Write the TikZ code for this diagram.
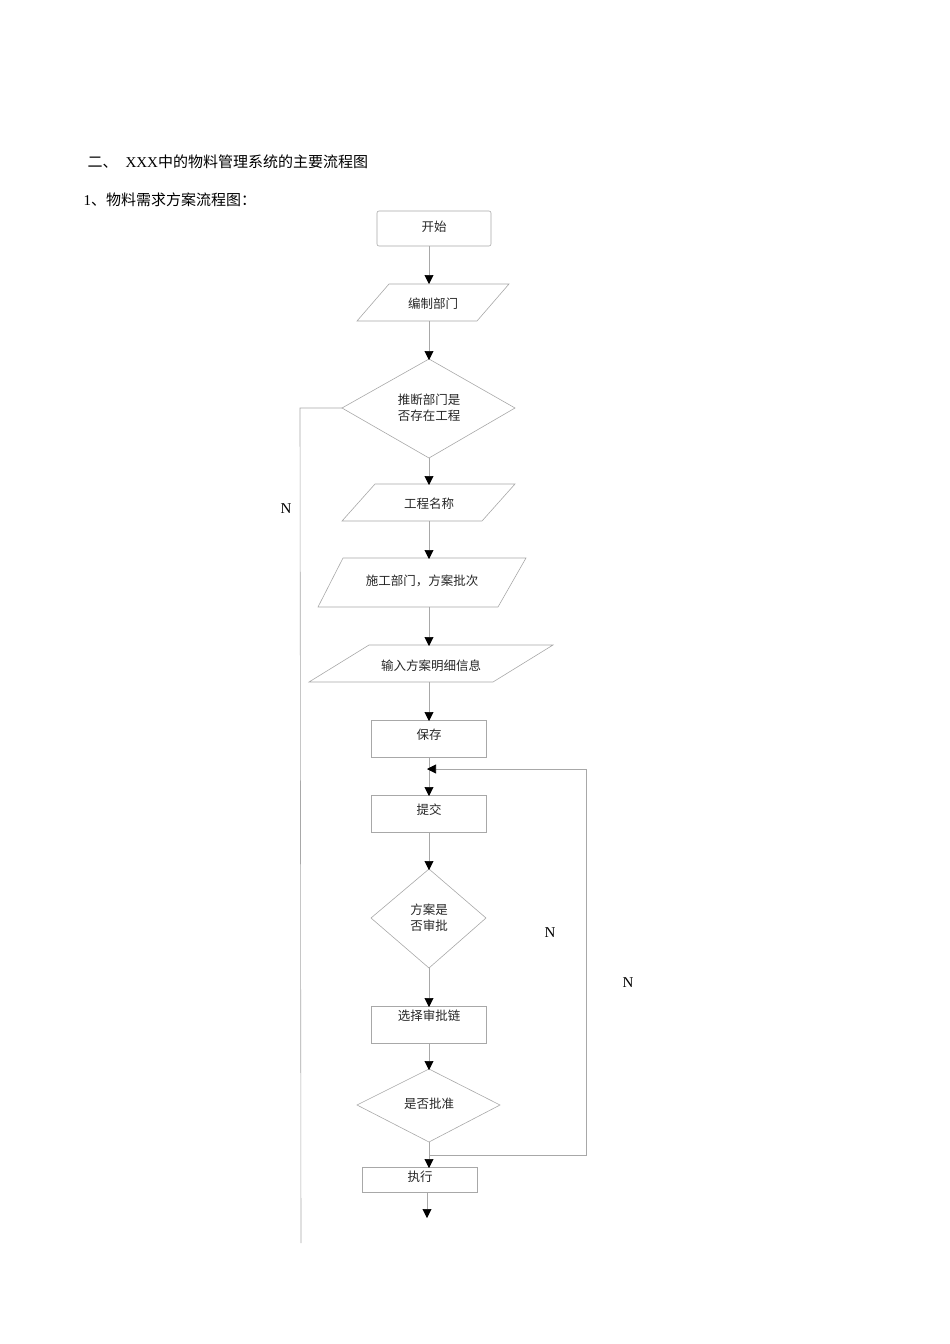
\documentclass[tikz,border=0pt]{standalone}
\usepackage{fontspec}
\setmainfont{Liberation Serif}
\newfontfamily\cjk{Noto Sans CJK SC}
\usetikzlibrary{arrows.meta}
\definecolor{ln}{HTML}{A8A8A8}
\begin{document}
\begin{tikzpicture}[x=1pt,y=-1pt,
  shp/.style={draw=ln,line width=0.6pt},
  lbl/.style={font=\cjk\fontsize{12.5}{16}\selectfont,align=center,text=black!85},
  ar/.style={draw=ln,line width=0.6pt,-{Triangle[length=9pt,width=9pt,color=black,fill=black]}},
  ln/.style={draw=ln,line width=0.6pt}]
\useasboundingbox (0,0) rectangle (950,1344);
\node[anchor=west,font=\cjk\fontsize{15}{18}\selectfont] (t1) at (84,162) {二、\hspace{8pt}{\rmfamily XXX}中的物料管理系统的主要流程图};
\node[anchor=west,font=\cjk\fontsize{15}{18}\selectfont] (t2) at (80,200) {{\rmfamily 1}、物料需求方案流程图：};
% shapes
\draw[shp,rounded corners=2pt] (377,211) rectangle (491,246);
\node[lbl] (start) at (434,227) {开始};
\coordinate (s0) at (429,246);
\draw[shp] (389,284) -- (509,284) -- (477,321) -- (357,321) -- cycle;
\node[lbl] (p1) at (433,304) {编制部门};
\draw[shp] (429,359) -- (515,408) -- (429,458) -- (342,408) -- cycle;
\node[lbl] (d1) at (429,408) {推断部门是\\否存在工程};
\draw[shp] (375,484) -- (515,484) -- (482,521) -- (342,521) -- cycle;
\node[lbl] (p2) at (429,504) {工程名称};
\draw[shp] (343,558) -- (526,558) -- (498,607) -- (318,607) -- cycle;
\node[lbl] (p3) at (422,581) {施工部门，方案批次};
\draw[shp] (369,645) -- (553,645) -- (493,682) -- (309,682) -- cycle;
\node[lbl] (p4) at (431,666) {输入方案明细信息};
\draw[shp] (371,720) rectangle (486,757);
\node[lbl] (b1) at (429,735) {保存};
\draw[shp] (371,795) rectangle (486,832);
\node[lbl] (b2) at (429,810) {提交};
\draw[shp] (429,869) -- (486,918) -- (429,968) -- (371,918) -- cycle;
\node[lbl] (d2) at (429,918) {方案是\\否审批};
\draw[shp] (371,1006) rectangle (486,1043);
\node[lbl] (b3) at (429,1016) {选择审批链};
\draw[shp] (429,1069) -- (500,1105) -- (429,1142) -- (357,1105) -- cycle;
\node[lbl] (d3) at (429,1104) {是否批准};
\draw[shp] (362,1167) rectangle (477,1192);
\node[lbl] (b4) at (420,1177) {执行};
% connectors
\draw[ar] (429,246) -- (429,284);
\draw[ar] (429,321) -- (429,360);
\draw[ar] (429,458) -- (429,485);
\draw[ar] (429,521) -- (429,559);
\draw[ar] (429,607) -- (429,646);
\draw[ar] (429,682) -- (429,721);
\draw[ar] (429,757) -- (429,796);
\draw[ar] (429,832) -- (429,870);
\draw[ar] (429,968) -- (429,1007);
\draw[ar] (429,1043) -- (429,1070);
\draw[ar] (429,1142) -- (429,1168);
\draw[ar] (427,1192) -- (427,1218);
\draw[ar] (429,1155) -- (586,1155) -- (586,769) -- (427,769);
\draw[ln] (342,408) -- (300,408) -- (301,1243);
\node[font=\fontsize{15}{18}\selectfont] (n1) at (286,509) {N};
\node[font=\fontsize{15}{18}\selectfont] (n2) at (550,933) {N};
\node[font=\fontsize{15}{18}\selectfont] (n3) at (628,983) {N};
\end{tikzpicture}
\end{document}
